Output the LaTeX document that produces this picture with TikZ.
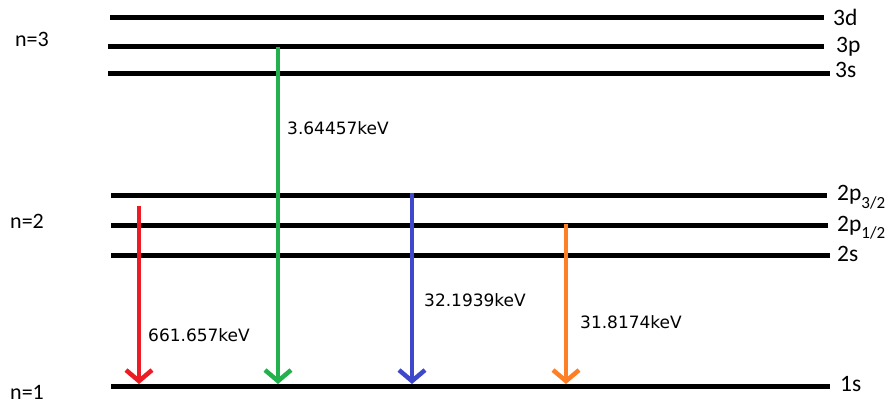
\documentclass[tikz,border=0pt]{standalone}
\usepackage{fontspec}
\setmainfont{Carlito}
\newfontfamily\ef{DejaVu Sans}
\usetikzlibrary{arrows.meta}
\definecolor{cred}{RGB}{237,28,36}
\definecolor{cgreen}{RGB}{34,177,76}
\definecolor{cblue}{RGB}{63,72,204}
\definecolor{corange}{RGB}{255,127,39}
\begin{document}
\begin{tikzpicture}[x=1pt,y=-1pt,
  level/.style={line width=5pt},
  trans/.style={line width=4pt,-{Straight Barb[length=11pt,width=26pt,line width=4.5pt]}},
  lvlabel/.style={anchor=base west,inner sep=0pt,font=\fontsize{23.5}{23.5}\selectfont},
  nlabel/.style={anchor=base west,inner sep=0pt,font=\fontsize{22}{22}\selectfont},
  elabel/.style={anchor=base west,inner sep=0pt,font=\ef\fontsize{17}{17}\selectfont}]
\useasboundingbox (0,0) rectangle (894,406);
% level endpoints
\coordinate (d3L) at (110,18);   \coordinate (d3R) at (824,18);
\coordinate (p3L) at (108,47);   \coordinate (p3R) at (824,47);
\coordinate (s3L) at (108,74);   \coordinate (s3R) at (830,74);
\coordinate (pp2L) at (111,196); \coordinate (pp2R) at (827,196);
\coordinate (p2L) at (111,226);  \coordinate (p2R) at (828,226);
\coordinate (s2L) at (111,255);  \coordinate (s2R) at (830,255);
\coordinate (s1L) at (111,386);  \coordinate (s1R) at (830,386);
\foreach \l in {d3,p3,s3,pp2,p2,s2,s1} \draw[level] (\l L) -- (\l R);
% labels
\node[lvlabel] (l3d) at (833,26) {3d};
\node[lvlabel] (l3p) at (836,53) {3p};
\node[lvlabel] (l3s) at (835,78) {3s};
\node[lvlabel] (l2pp) at (837,201) {2p\raisebox{-0.3em}{\fontsize{17}{17}\selectfont 3/2}};
\node[lvlabel] (l2p) at (837,231) {2p\raisebox{-0.3em}{\fontsize{17}{17}\selectfont 1/2}};
\node[lvlabel] (l2s) at (837,261) {2s};
\node[lvlabel] (l1s) at (840,391) {1s};
\node[nlabel] (n3) at (15,47) {n=3};
\node[nlabel] (n2) at (10,229) {n=2};
\node[nlabel] (n1) at (10,399) {n=1};
% transitions
\coordinate (rt) at (139,206); \coordinate (rb) at (139,384);
\coordinate (gt) at (278,47);  \coordinate (gb) at (278,384);
\coordinate (bt) at (412,193); \coordinate (bb) at (412,384);
\coordinate (ot) at (566,224); \coordinate (ob) at (566,384);
\draw[trans,cred] (rt) -- (rb);
\draw[trans,cgreen] (gt) -- (gb);
\draw[trans,cblue] (bt) -- (bb);
\draw[trans,corange] (ot) -- (ob);
\node[elabel] (e1) at (148,341) {661.657keV};
\node[elabel] (e2) at (287,135) {3.64457keV};
\node[elabel] (e3) at (424,306) {32.1939keV};
\node[elabel] (e4) at (580,328) {31.8174keV};
\end{tikzpicture}
\end{document}
